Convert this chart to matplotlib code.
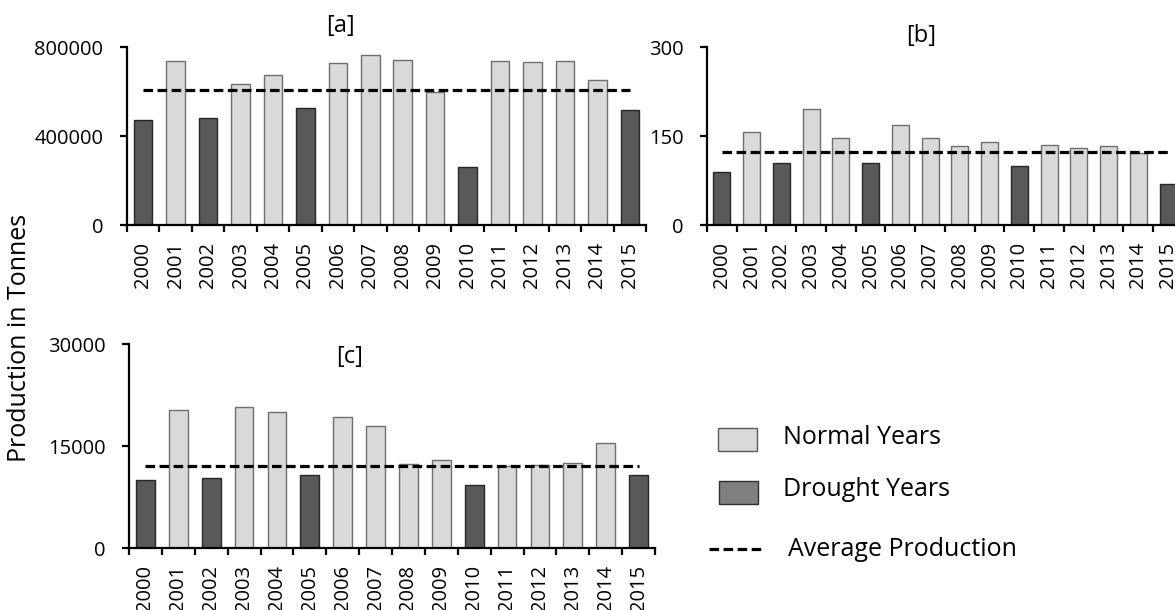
import matplotlib.pyplot as plt
from matplotlib.patches import Rectangle
from matplotlib.lines import Line2D
import numpy as np

plt.rcParams['font.family'] = ['Open Sans', 'DejaVu Sans']

years = list(range(2000, 2016))
drought_years = [2000, 2002, 2005, 2010, 2015]

# production in tonnes, one list per panel
prod_a = [470000, 737000, 482000, 632000, 673000, 524000, 727000, 762000,
          740000, 600000, 262000, 736000, 733000, 736000, 650000, 517000]
prod_b = [90, 156, 105, 195, 147, 104, 169, 147, 134, 140, 100, 135, 130, 134, 122, 69]
prod_c = [10000, 20300, 10300, 20700, 20000, 10700, 19300, 17900,
          12300, 12900, 9200, 12100, 12200, 12500, 15400, 10700]

avg_a = 605000
avg_b = 123
avg_c = 12100

NORMAL = '#d9d9d9'
DROUGHT = '#595959'


def bar_panel(ax, values, avg, ymax, yticks, title, tx, ty):
    x = np.arange(len(years))
    colors = [DROUGHT if y in drought_years else NORMAL for y in years]
    edges = ['#262626' if y in drought_years else '#6e6e6e' for y in years]
    ax.bar(x, values, width=0.57, color=colors, edgecolor=edges, linewidth=1, zorder=2)
    ax.plot([x[0], x[-1]], [avg, avg], color='black', lw=2.3,
            linestyle=(0, (3, 1.4)), zorder=3)

    ax.set_xlim(-0.5, len(years) - 0.5)
    ax.set_ylim(0, ymax)
    ax.set_yticks(yticks)
    ax.set_yticklabels([str(t) for t in yticks])
    ax.set_xticks(x)
    ax.set_xticklabels([str(y) for y in years], rotation=90)
    ax.set_xticks(np.arange(-0.5, len(years)), minor=True)

    for s in ['top', 'right']:
        ax.spines[s].set_visible(False)
    for s in ['left', 'bottom']:
        ax.spines[s].set_linewidth(1.6)
    ax.tick_params(axis='y', direction='out', length=5, width=1.6, pad=12, labelsize=14.5)
    ax.tick_params(axis='x', which='major', length=0, pad=12, labelsize=14.5)
    ax.tick_params(axis='x', which='minor', direction='out', length=5, width=1.6)

    ax.text(tx, ty, title, transform=ax.transAxes, ha='center', va='center',
            fontsize=17)


fig = plt.figure(figsize=(11.75, 6.1), dpi=100)

ax_a = fig.add_axes([0.1081, 0.6311, 0.4417, 0.2918])
ax_b = fig.add_axes([0.6017, 0.6311, 0.4051, 0.2918])
ax_c = fig.add_axes([0.1098, 0.1016, 0.4477, 0.3344])

bar_panel(ax_a, prod_a, avg_a, 800000, [0, 400000, 800000], '[a]', 0.412, 1.118)
bar_panel(ax_b, prod_b, avg_b, 300, [0, 150, 300], '[b]', 0.45, 1.062)
bar_panel(ax_c, prod_c, avg_c, 30000, [0, 15000, 30000], '[c]', 0.42, 0.936)

fig.text(0.017, 1 - 338 / 610, 'Production in Tonnes', rotation=90,
         ha='center', va='center', fontsize=18)

# legend drawn by hand in figure coordinates
fig.add_artist(Rectangle((0.611, 0.2607), 0.0332, 0.0377, transform=fig.transFigure,
                         facecolor=NORMAL, edgecolor='#595959', lw=1))
fig.add_artist(Rectangle((0.612, 0.1738), 0.0332, 0.0377, transform=fig.transFigure,
                         facecolor='#7f7f7f', edgecolor='#303030', lw=1))
fig.add_artist(Line2D([0.6034, 0.651], [0.1, 0.1], transform=fig.transFigure,
                      color='black', lw=2.3, linestyle=(0, (3, 1.4))))
fig.text(0.666, 1 - 437 / 610, 'Normal Years', ha='left', va='center', fontsize=18)
fig.text(0.666, 1 - 490 / 610, 'Drought Years', ha='left', va='center', fontsize=18)
fig.text(0.6706, 1 - 550 / 610, 'Average Production', ha='left', va='center', fontsize=18)

fig.savefig('out.png', dpi=100)
